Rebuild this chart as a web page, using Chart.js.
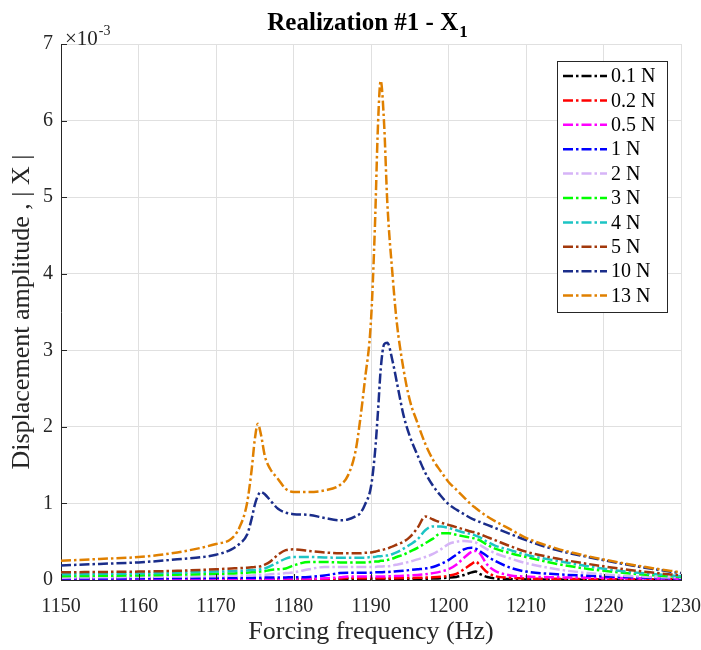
<!DOCTYPE html>
<html>
<head>
<meta charset="utf-8">
<script src="https://cdn.jsdelivr.net/npm/chart.js@4.4.1/dist/chart.umd.min.js"></script>
<style>
  html, body { margin: 0; padding: 0; background: #fff; }
  canvas { display: block; }
</style>
</head>
<body>
<canvas id="frfChart" width="701" height="650"></canvas>
<script>
// forcing frequency (Hz)
var freq = [1150, 1155, 1160, 1165, 1170, 1172, 1173, 1174, 1174.6, 1175,
  1175.4, 1175.8, 1176.3, 1177, 1178, 1179, 1180, 1182, 1184, 1186,
  1187, 1188, 1188.6, 1189.2, 1190, 1190.5, 1190.9, 1191.25, 1191.7, 1192.1,
  1192.8, 1193.3, 1194.2, 1195, 1196, 1197, 1198, 1199, 1200, 1201,
  1202, 1203, 1203.5, 1204, 1205, 1206, 1208, 1210, 1214, 1218,
  1222, 1226, 1230];

// displacement amplitude |X|, in units of 1e-3
var amp01N = [0.004, 0.004, 0.004, 0.004, 0.004, 0.004, 0.004, 0.004, 0.004, 0.004,
  0.004, 0.004, 0.004, 0.004, 0.005, 0.005, 0.005, 0.006, 0.008, 0.012,
  0.015, 0.015, 0.014, 0.013, 0.012, 0.012, 0.012, 0.012, 0.012, 0.012,
  0.013, 0.013, 0.014, 0.014, 0.015, 0.016, 0.019, 0.023, 0.03, 0.04,
  0.065, 0.10, 0.11, 0.08, 0.04, 0.02, 0.012, 0.008, 0.006, 0.005,
  0.005, 0.004, 0.004];
var amp02N = [0.007, 0.007, 0.007, 0.008, 0.008, 0.008, 0.008, 0.008, 0.008, 0.008,
  0.008, 0.008, 0.008, 0.008, 0.009, 0.009, 0.009, 0.01, 0.012, 0.018,
  0.025, 0.025, 0.024, 0.023, 0.022, 0.022, 0.022, 0.022, 0.022, 0.023,
  0.023, 0.024, 0.025, 0.026, 0.028, 0.031, 0.035, 0.042, 0.055, 0.08,
  0.14, 0.21, 0.24, 0.20, 0.10, 0.05, 0.03, 0.02, 0.015, 0.012,
  0.01, 0.009, 0.008];
var amp05N = [0.012, 0.012, 0.013, 0.014, 0.015, 0.015, 0.015, 0.016, 0.016, 0.016,
  0.016, 0.016, 0.016, 0.017, 0.017, 0.018, 0.018, 0.019, 0.022, 0.035,
  0.045, 0.045, 0.045, 0.045, 0.045, 0.046, 0.046, 0.047, 0.047, 0.048,
  0.05, 0.052, 0.055, 0.06, 0.065, 0.075, 0.09, 0.11, 0.14, 0.20,
  0.29, 0.37, 0.38, 0.35, 0.20, 0.12, 0.06, 0.045, 0.035, 0.03,
  0.025, 0.02, 0.015];
var amp1N = [0.02, 0.02, 0.022, 0.025, 0.028, 0.03, 0.03, 0.03, 0.03, 0.03,
  0.03, 0.03, 0.032, 0.032, 0.033, 0.034, 0.035, 0.04, 0.06, 0.09,
  0.095, 0.095, 0.095, 0.095, 0.095, 0.10, 0.10, 0.10, 0.105, 0.105,
  0.11, 0.115, 0.12, 0.13, 0.14, 0.15, 0.17, 0.21, 0.26, 0.33,
  0.40, 0.42, 0.41, 0.38, 0.31, 0.25, 0.16, 0.11, 0.075, 0.055,
  0.04, 0.03, 0.02];
var amp2N = [0.03, 0.035, 0.04, 0.045, 0.05, 0.055, 0.055, 0.06, 0.06, 0.065,
  0.065, 0.07, 0.07, 0.075, 0.08, 0.09, 0.10, 0.14, 0.17, 0.17,
  0.17, 0.17, 0.17, 0.17, 0.17, 0.17, 0.175, 0.175, 0.18, 0.18,
  0.19, 0.20, 0.22, 0.24, 0.27, 0.30, 0.34, 0.40, 0.47, 0.50,
  0.51, 0.50, 0.49, 0.46, 0.40, 0.35, 0.28, 0.22, 0.14, 0.09,
  0.06, 0.04, 0.03];
var amp3N = [0.05, 0.055, 0.06, 0.07, 0.08, 0.085, 0.09, 0.095, 0.10, 0.10,
  0.105, 0.11, 0.115, 0.13, 0.14, 0.15, 0.19, 0.235, 0.235, 0.23,
  0.23, 0.23, 0.23, 0.23, 0.235, 0.24, 0.24, 0.25, 0.25, 0.26,
  0.28, 0.30, 0.33, 0.37, 0.42, 0.48, 0.54, 0.61, 0.61, 0.59,
  0.57, 0.55, 0.54, 0.52, 0.46, 0.41, 0.35, 0.30, 0.21, 0.145,
  0.10, 0.065, 0.04];
var amp4N = [0.075, 0.08, 0.085, 0.095, 0.11, 0.115, 0.12, 0.125, 0.13, 0.13,
  0.135, 0.14, 0.15, 0.18, 0.23, 0.28, 0.30, 0.30, 0.295, 0.29,
  0.29, 0.29, 0.29, 0.29, 0.30, 0.30, 0.31, 0.31, 0.32, 0.32,
  0.34, 0.36, 0.41, 0.46, 0.53, 0.65, 0.70, 0.70, 0.68, 0.65,
  0.62, 0.60, 0.58, 0.56, 0.50, 0.45, 0.39, 0.33, 0.25, 0.18,
  0.12, 0.08, 0.05];
var amp5N = [0.10, 0.105, 0.11, 0.12, 0.14, 0.15, 0.155, 0.16, 0.165, 0.17,
  0.175, 0.18, 0.20, 0.24, 0.33, 0.39, 0.40, 0.38, 0.36, 0.35,
  0.35, 0.35, 0.35, 0.355, 0.36, 0.37, 0.38, 0.39, 0.40, 0.41,
  0.44, 0.46, 0.50, 0.56, 0.68, 0.83, 0.79, 0.75, 0.72, 0.69,
  0.66, 0.63, 0.62, 0.60, 0.56, 0.52, 0.44, 0.37, 0.28, 0.21,
  0.15, 0.10, 0.06];
var amp10N = [0.19, 0.21, 0.23, 0.27, 0.33, 0.40, 0.47, 0.59, 0.80, 0.98,
  1.10, 1.15, 1.12, 1.04, 0.93, 0.88, 0.86, 0.85, 0.81, 0.78,
  0.79, 0.83, 0.87, 0.98, 1.22, 1.65, 2.20, 2.75, 3.08, 3.10,
  2.85, 2.60, 2.15, 1.88, 1.63, 1.40, 1.23, 1.10, 0.99, 0.92,
  0.86, 0.80, 0.78, 0.76, 0.72, 0.68, 0.60, 0.52, 0.39, 0.30,
  0.22, 0.15, 0.09];
var amp13N = [0.25, 0.275, 0.30, 0.36, 0.47, 0.54, 0.68, 1.00, 1.44, 1.83,
  2.04, 1.90, 1.62, 1.45, 1.32, 1.19, 1.15, 1.15, 1.17, 1.24,
  1.36, 1.68, 2.09, 2.60, 3.39, 4.60, 5.94, 6.52, 5.94, 4.94,
  3.96, 3.39, 2.75, 2.35, 2.05, 1.78, 1.57, 1.42, 1.28, 1.18,
  1.08, 0.98, 0.94, 0.90, 0.83, 0.77, 0.66, 0.55, 0.41, 0.31,
  0.23, 0.16, 0.10];

var forceLabels = ['0.1 N', '0.2 N', '0.5 N', '1 N', '2 N', '3 N', '4 N', '5 N', '10 N', '13 N'];
var seriesValues = [amp01N, amp02N, amp05N, amp1N, amp2N, amp3N, amp4N, amp5N, amp10N, amp13N];
var lineColors = ['#000000', '#ff0000', '#ff00ff', '#0000ff', '#d6b4f7',
  '#00ff00', '#1cc4c4', '#a2380b', '#1a2d8a', '#e08000'];

var dashDot = [10, 3, 2.5, 3];
var serif = "'Liberation Serif', 'Times New Roman', serif";
var axisColor = '#262626';

var datasets = forceLabels.map(function (lab, i) {
  return {
    label: lab,
    data: freq.map(function (f, k) { return { x: f, y: seriesValues[i][k] }; }),
    borderColor: lineColors[i],
    backgroundColor: lineColors[i],
    borderWidth: 2.5,
    borderDash: dashDot,
    pointRadius: 0,
    fill: false,
    cubicInterpolationMode: 'monotone',
    order: forceLabels.length - 1 - i
  };
});

// title, exponent, inward ticks and the boxed legend inside the axes
var extrasPlugin = {
  id: 'extras',
  afterDraw: function (chart) {
    var ctx = chart.ctx;
    var area = chart.chartArea;
    var xs = chart.scales.x;
    var ys = chart.scales.y;
    ctx.save();

    // inward tick marks
    ctx.strokeStyle = axisColor;
    ctx.lineWidth = 1;
    ctx.beginPath();
    xs.ticks.forEach(function (t) {
      var px = Math.round(xs.getPixelForValue(t.value)) + 0.5;
      ctx.moveTo(px, area.bottom);
      ctx.lineTo(px, area.bottom - 6);
    });
    ys.ticks.forEach(function (t) {
      var py = Math.round(ys.getPixelForValue(t.value)) + 0.5;
      ctx.moveTo(area.left, py);
      ctx.lineTo(area.left + 6, py);
    });
    ctx.stroke();

    // x10^-3 exponent
    ctx.fillStyle = axisColor;
    ctx.textBaseline = 'alphabetic';
    ctx.textAlign = 'left';
    ctx.font = '21px ' + serif;
    var ex = area.left + 4;
    var ey = area.top + 1;
    ctx.fillText('\u00d710', ex, ey);
    var w = ctx.measureText('\u00d710').width;
    ctx.font = '14px ' + serif;
    ctx.fillText('-3', ex + w + 1, ey - 10);

    // title with subscript
    ctx.fillStyle = '#000';
    ctx.font = 'bold 25px ' + serif;
    var main = 'Realization #1 - X';
    var mw = ctx.measureText(main).width;
    ctx.font = 'bold 17px ' + serif;
    var sw = ctx.measureText('1').width;
    var tx = (area.left + area.right) / 2 - (mw + sw) / 2 - 4;
    var ty = 30;
    ctx.font = 'bold 25px ' + serif;
    ctx.fillText(main, tx, ty);
    ctx.font = 'bold 17px ' + serif;
    ctx.fillText('1', tx + mw + 1, ty + 7);

    // legend
    var boxW = 110, rowH = 24.4;
    var n = chart.data.datasets.length;
    var boxH = n * rowH + 7;
    var bx = area.right - 14 - boxW;
    var by = area.top + 17;
    ctx.fillStyle = '#fff';
    ctx.fillRect(bx, by, boxW, boxH);
    ctx.strokeStyle = axisColor;
    ctx.lineWidth = 1;
    ctx.strokeRect(Math.round(bx) + 0.5, Math.round(by) + 0.5, boxW, boxH);
    ctx.font = '20px ' + serif;
    ctx.textBaseline = 'middle';
    chart.data.datasets.forEach(function (ds, i) {
      var cy = by + 15 + i * rowH;
      ctx.strokeStyle = ds.borderColor;
      ctx.lineWidth = 2.5;
      ctx.setLineDash(ds.borderDash);
      ctx.beginPath();
      ctx.moveTo(bx + 6, cy);
      ctx.lineTo(bx + 50, cy);
      ctx.stroke();
      ctx.setLineDash([]);
      ctx.fillStyle = '#000';
      ctx.fillText(ds.label, bx + 54, cy + 1);
    });

    ctx.restore();
  }
};

var ctx = document.getElementById('frfChart').getContext('2d');
var frfChart = new Chart(ctx, {
  type: 'line',
  data: { datasets: datasets },
  options: {
    responsive: false,
    animation: false,
    layout: { padding: { top: 44, right: 20, left: 0, bottom: 0 } },
    plugins: {
      legend: { display: false },
      tooltip: { enabled: false }
    },
    scales: {
      x: {
        type: 'linear',
        min: 1150,
        max: 1230,
        afterFit: function (scale) {
          scale.height = 70;
          scale.paddingLeft = 0;
          scale.paddingRight = 0;
        },
        ticks: {
          stepSize: 10,
          color: axisColor,
          font: { family: serif, size: 20 },
          padding: 15,
          maxRotation: 0,
          callback: function (v) { return String(v); }
        },
        grid: { color: '#e0e0e0', drawTicks: false },
        border: { display: true, color: axisColor },
        title: {
          display: true,
          text: 'Forcing frequency (Hz)',
          color: axisColor,
          font: { family: serif, size: 26 },
          padding: { top: 0, bottom: 2 }
        }
      },
      y: {
        min: 0,
        max: 7,
        afterFit: function (scale) {
          scale.width = 61;
          scale.paddingTop = 0;
          scale.paddingBottom = 0;
        },
        ticks: {
          stepSize: 1,
          color: axisColor,
          font: { family: serif, size: 20 },
          padding: 8
        },
        grid: { color: '#e0e0e0', drawTicks: false },
        border: { display: true, color: axisColor },
        title: {
          display: true,
          text: 'Displacement amplitude , | X |',
          color: axisColor,
          font: { family: serif, size: 26 },
          padding: { top: 7, bottom: 0 }
        }
      }
    }
  },
  plugins: [extrasPlugin]
});
</script>
</body>
</html>
